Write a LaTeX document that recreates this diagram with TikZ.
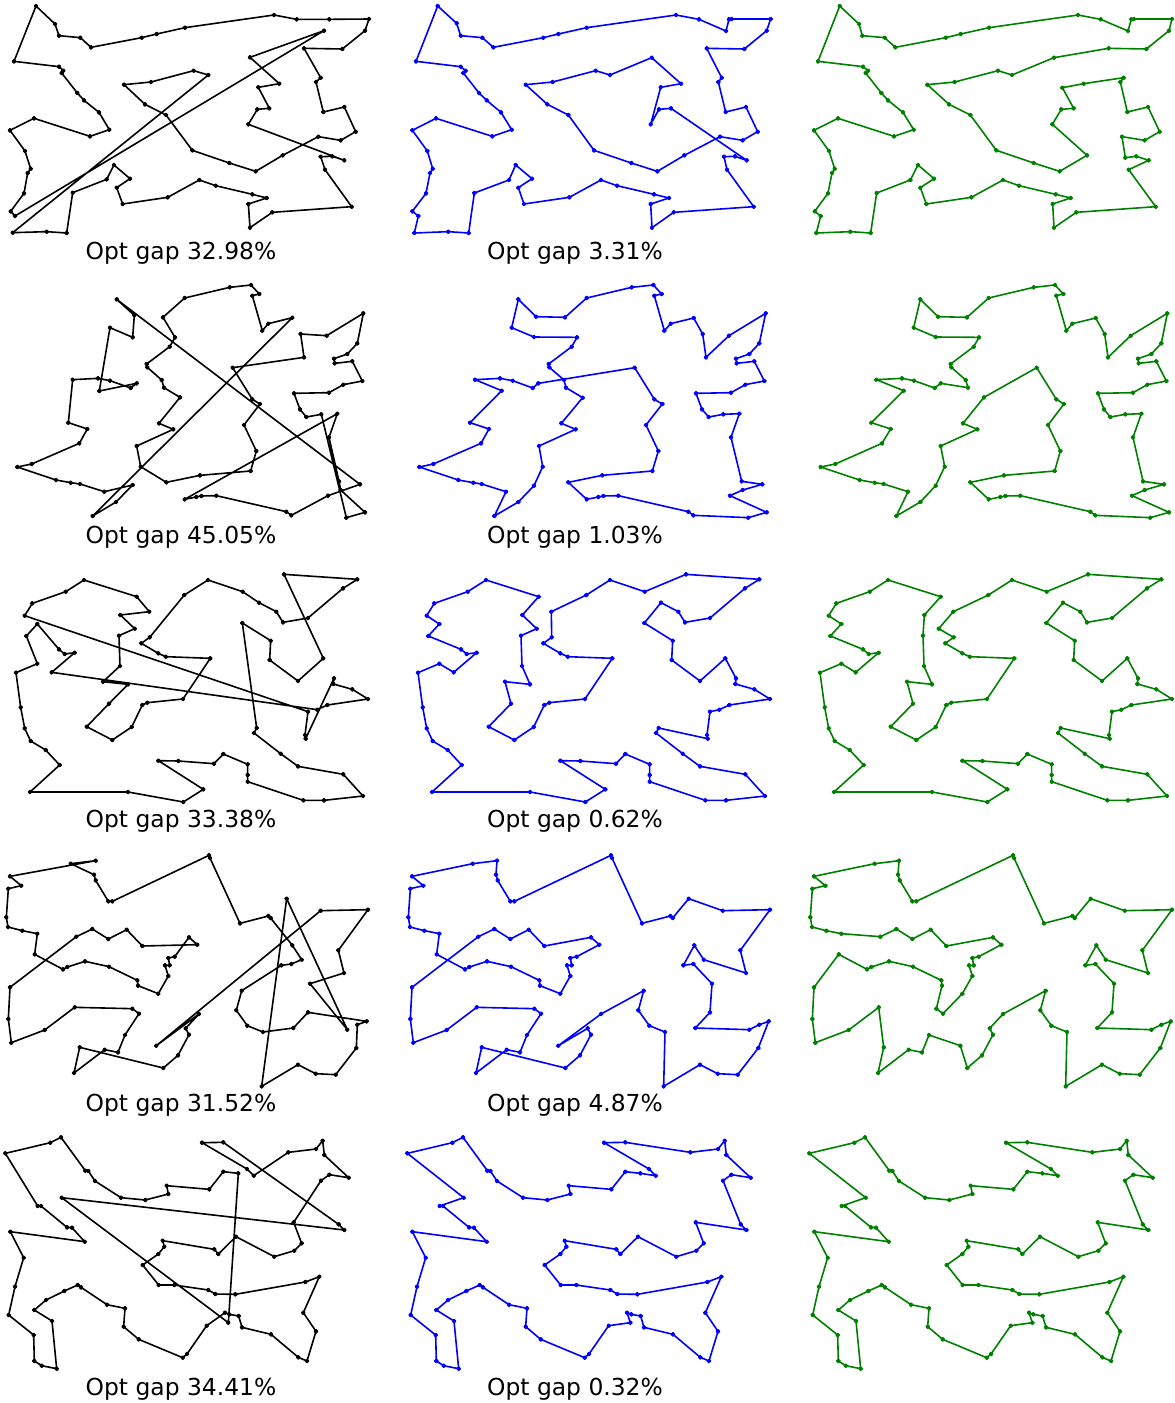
\documentclass[tikz,border=0pt]{standalone}
\usepackage{fontspec}
\setmainfont{DejaVu Sans}
\definecolor{mplgreen}{rgb}{0,0.5,0}
\definecolor{mplblue}{rgb}{0,0,1}
\tikzset{
  tourline/.style={line width=1.6pt,line join=round},
  gaplabel/.style={anchor=base,inner sep=0pt,font=\fontsize{23.4}{28}\selectfont}
}
\newcommand{\tourplot}[4]{%
  \begin{scope}[shift={(#2pt,-#3pt)},x=0.3333333pt,y=-0.3333333pt]
    \draw[tourline,color=#1] plot[mark=*,mark size=1.6pt] coordinates {#4} -- cycle;
  \end{scope}}
\begin{document}
\begin{tikzpicture}
\useasboundingbox (0pt,0pt) rectangle (1175pt,-1403pt);
% ---------------- Row 1
\tourplot{black}{0}{0}{(108,18)(165,72)(177,107)(241,113)(273,142)(425,113)(470,102)(555,83)(822,45)(890,58)(988,58)(1107,57)(1095,92)(1027,147)(912,145)(962,233)(948,246)(970,336)(1033,321)(1067,395)(1022,421)(955,410)(848,466)(767,514)(688,489)(577,451)(498,345)(435,313)(372,254)(453,246)(581,212)(625,225)(38,698)(140,695)(200,699)(218,578)(320,538)(342,495)(390,536)(350,563)(368,612)(503,592)(598,540)(647,557)(757,583)(800,594)(745,612)(750,683)(817,637)(1055,620)(975,509)(962,470)(997,469)(1033,481)(745,373)(772,328)(808,325)(775,262)(838,251)(750,172)(972,92)(45,648)(32,634)(72,580)(83,519)(92,506)(75,453)(30,391)(102,355)(270,409)(328,389)(297,337)(252,301)(232,279)(185,219)(190,212)(177,200)(42,184)}
\tourplot{mplblue}{405}{0}{(98,18)(155,70)(167,107)(232,113)(265,142)(415,113)(460,102)(545,83)(813,45)(882,58)(963,93)(972,58)(980,57)(1097,57)(1085,92)(1018,147)(905,145)(950,233)(940,246)(962,336)(1023,321)(1058,395)(1013,421)(945,410)(838,466)(757,514)(679,489)(567,451)(490,345)(427,313)(362,254)(443,246)(572,212)(615,225)(740,173)(828,251)(767,262)(737,373)(762,328)(798,325)(1025,481)(990,469)(957,470)(966,509)(1046,620)(806,637)(741,683)(737,612)(792,594)(747,583)(636,557)(588,540)(493,592)(357,612)(340,563)(381,536)(332,495)(312,540)(208,579)(191,699)(130,695)(28,699)(40,648)(22,634)(63,580)(75,519)(83,506)(67,453)(22,391)(93,355)(262,409)(320,389)(288,337)(245,301)(222,279)(175,219)(182,212)(167,200)(33,184)}
\tourplot{mplgreen}{808}{0}{(95,18)(153,72)(163,107)(230,113)(262,142)(413,113)(458,102)(543,83)(810,45)(878,58)(960,93)(970,58)(978,57)(1092,57)(1083,92)(1015,147)(902,145)(738,173)(612,225)(570,212)(440,246)(358,254)(423,313)(487,345)(565,451)(677,489)(755,514)(837,466)(733,373)(760,328)(797,325)(763,263)(827,251)(947,233)(937,246)(958,336)(1020,321)(1055,395)(1010,421)(942,410)(952,473)(985,469)(1022,481)(962,509)(1043,620)(805,637)(738,683)(734,612)(788,594)(743,583)(633,557)(585,540)(490,592)(355,612)(337,563)(378,536)(330,495)(307,540)(206,579)(188,699)(127,695)(25,699)(38,648)(20,634)(60,580)(72,519)(80,506)(63,453)(18,391)(90,355)(258,409)(317,389)(285,337)(240,301)(220,279)(173,219)(180,212)(165,200)(30,184)}
\node[gaplabel] (g1a) at (181pt,-259pt) {Opt gap 32.98\%};
\node[gaplabel] (g1b) at (575pt,-259pt) {Opt gap 3.31\%};
% ---------------- Row 2
\tourplot{black}{0}{280}{(350,58)(403,106)(398,172)(330,143)(298,333)(410,310)(392,324)(330,302)(294,295)(218,299)(205,428)(262,447)(238,490)(95,552)(52,561)(168,600)(212,608)(240,612)(313,635)(398,615)(348,666)(278,708)(877,113)(805,131)(787,152)(757,47)(778,42)(753,15)(689,22)(554,54)(489,112)(525,172)(509,200)(440,252)(442,262)(485,300)(492,323)(540,352)(477,430)(520,448)(410,498)(422,560)(499,607)(600,586)(752,573)(769,513)(732,435)(780,372)(757,358)(698,263)(912,232)(902,162)(980,167)(1090,100)(1072,190)(1042,222)(1002,236)(1004,250)(1057,244)(1087,303)(1030,314)(987,338)(882,340)(900,388)(919,411)(964,403)(1039,713)(1095,697)(1022,630)(1017,604)(987,472)(1012,401)(554,658)(589,651)(604,648)(649,647)(859,695)(874,706)(984,647)(1080,613)}
\tourplot{mplblue}{405}{280}{(340,58)(393,110)(480,112)(545,54)(680,22)(745,15)(770,42)(748,47)(778,152)(797,131)(866,114)(893,162)(903,232)(972,167)(1082,100)(1063,190)(1033,222)(993,236)(995,250)(1048,244)(1078,303)(1021,314)(978,338)(873,340)(891,388)(911,411)(955,403)(1003,401)(978,472)(1010,604)(1072,613)(1013,630)(975,647)(1085,697)(1030,713)(865,706)(850,695)(640,647)(595,648)(580,651)(545,658)(490,607)(592,586)(742,573)(760,513)(723,435)(772,372)(748,358)(689,263)(400,310)(383,324)(323,302)(285,295)(210,299)(290,332)(195,428)(252,447)(228,490)(85,552)(43,561)(160,600)(205,608)(230,612)(303,635)(268,708)(340,666)(387,617)(413,560)(402,498)(512,448)(469,430)(533,353)(483,323)(477,300)(433,262)(431,252)(500,200)(516,172)(387,171)(320,143)}
\tourplot{mplgreen}{808}{280}{(337,58)(390,110)(477,112)(542,54)(677,22)(741,15)(766,42)(745,47)(775,152)(793,131)(863,114)(890,162)(900,232)(968,167)(1078,100)(1060,190)(1030,222)(990,236)(992,250)(1045,244)(1075,303)(1018,314)(975,338)(870,340)(888,388)(907,411)(952,403)(1000,401)(975,472)(1005,604)(1068,613)(1010,630)(972,647)(1083,697)(1027,713)(862,706)(847,695)(637,647)(592,648)(577,651)(542,658)(487,607)(588,586)(740,573)(757,513)(720,435)(768,372)(745,358)(686,263)(528,352)(465,430)(508,448)(398,498)(410,560)(383,617)(337,666)(265,708)(300,635)(227,612)(200,608)(155,600)(38,561)(82,552)(222,490)(248,447)(190,428)(287,332)(205,299)(282,295)(318,302)(380,324)(398,310)(480,323)(473,300)(430,262)(428,252)(497,200)(513,172)(383,171)(317,143)}
\node[gaplabel] (g2a) at (181pt,-543pt) {Opt gap 45.05\%};
\node[gaplabel] (g2b) at (575pt,-543pt) {Opt gap 1.03\%};
% ---------------- Row 3
\tourplot{black}{0}{565}{(252,45)(410,95)(448,140)(361,150)(404,191)(357,212)(360,303)(309,350)(384,358)(327,416)(260,485)(337,525)(395,486)(427,420)(442,413)(549,402)(631,280)(497,275)(475,265)(424,235)(449,217)(553,90)(624,45)(728,80)(777,113)(829,140)(849,172)(924,159)(1029,70)(1072,43)(852,28)(970,280)(894,348)(809,285)(812,227)(727,174)(770,489)(762,504)(842,566)(894,604)(1030,628)(1089,693)(972,706)(910,706)(743,650)(743,630)(743,598)(670,567)(642,596)(535,588)(475,587)(610,673)(550,711)(384,681)(90,681)(179,600)(137,555)(92,528)(74,490)(62,427)(48,323)(112,296)(79,213)(112,177)(177,253)(194,267)(224,263)(155,322)(952,434)(982,420)(1104,402)(1057,373)(1000,357)(1002,340)(917,521)(915,510)(924,440)(74,152)(97,115)(197,80)}
\tourplot{mplblue}{406}{565}{(240,45)(185,80)(85,115)(62,152)(100,177)(67,213)(165,253)(182,267)(212,263)(143,322)(100,296)(36,323)(50,427)(62,490)(80,528)(125,555)(167,600)(78,681)(372,681)(538,711)(598,673)(463,587)(523,588)(630,596)(658,567)(731,598)(731,630)(731,650)(898,706)(960,706)(1077,693)(1018,628)(882,604)(830,566)(750,504)(758,489)(905,521)(903,510)(912,440)(940,434)(970,420)(1092,402)(1045,373)(988,357)(990,340)(958,280)(882,348)(797,285)(800,227)(715,174)(765,113)(817,140)(837,172)(912,159)(1017,70)(1060,43)(840,28)(716,80)(612,45)(541,90)(436,140)(437,217)(412,235)(463,265)(485,275)(619,280)(537,402)(430,413)(415,420)(383,486)(325,525)(248,485)(315,416)(297,350)(372,358)(348,303)(345,212)(392,191)(349,150)(398,95)}
\tourplot{mplgreen}{808}{565}{(240,45)(185,80)(85,115)(62,152)(100,177)(67,213)(165,253)(182,267)(212,263)(143,322)(100,296)(36,323)(50,427)(62,490)(80,528)(125,555)(167,600)(78,681)(372,681)(538,711)(598,673)(463,587)(523,588)(630,596)(658,567)(731,598)(731,630)(731,650)(898,706)(960,706)(1077,693)(1018,628)(882,604)(830,566)(750,504)(758,489)(905,521)(903,510)(912,440)(940,434)(970,420)(1092,402)(1045,373)(988,357)(990,340)(958,280)(882,348)(797,285)(800,227)(715,174)(765,113)(817,140)(837,172)(912,159)(1017,70)(1060,43)(840,28)(716,80)(612,45)(541,90)(436,140)(392,191)(437,217)(412,235)(463,265)(485,275)(619,280)(537,402)(430,413)(415,420)(383,486)(325,525)(248,485)(315,416)(297,350)(372,358)(348,303)(345,212)(349,150)(398,95)}
\node[gaplabel] (g3a) at (181pt,-827pt) {Opt gap 33.38\%};
\node[gaplabel] (g3b) at (575pt,-827pt) {Opt gap 0.62\%};
% ---------------- Row 4
\tourplot{black}{0}{848}{(30,85)(64,113)(25,122)(19,208)(24,237)(67,248)(112,257)(104,319)(189,364)(202,357)(255,340)(327,356)(412,397)(414,413)(475,437)(505,384)(495,352)(509,352)(505,330)(524,326)(567,268)(592,290)(427,294)(380,245)(325,273)(277,243)(229,266)(30,418)(25,513)(34,584)(134,546)(224,478)(397,482)(417,497)(375,561)(354,613)(314,605)(222,675)(239,598)(490,660)(534,622)(567,560)(557,541)(597,498)(469,593)(962,188)(1104,185)(1015,307)(1032,375)(930,407)(1042,545)(860,152)(785,715)(894,650)(947,677)(1007,680)(1069,600)(1072,530)(1100,520)(924,493)(880,540)(789,552)(742,533)(709,487)(725,428)(844,352)(874,348)(905,335)(877,292)(812,210)(805,204)(720,226)(630,30)(627,22)(337,160)(325,160)(287,97)(282,80)(212,47)(287,38)}
\tourplot{mplblue}{406}{848}{(18,85)(200,47)(273,38)(270,80)(275,97)(313,160)(325,160)(615,22)(618,30)(708,226)(793,204)(800,210)(848,152)(950,188)(1092,185)(1003,307)(1020,375)(893,335)(865,292)(832,352)(862,348)(918,407)(912,493)(868,540)(1030,545)(1060,530)(1088,520)(1057,600)(995,680)(935,677)(882,650)(773,715)(777,552)(730,533)(697,487)(713,428)(585,498)(457,593)(545,541)(555,560)(522,622)(478,660)(227,598)(210,675)(302,605)(342,613)(363,561)(405,497)(385,482)(212,478)(122,546)(22,584)(13,513)(18,418)(217,266)(265,243)(313,273)(368,245)(415,294)(555,268)(580,290)(512,326)(493,330)(497,352)(483,352)(493,384)(463,437)(402,413)(400,397)(315,356)(243,340)(190,357)(177,364)(92,319)(100,257)(55,248)(12,237)(7,208)(13,122)(52,113)}
\tourplot{mplgreen}{808}{848}{(18,85)(200,47)(273,38)(270,80)(275,97)(313,160)(325,160)(615,22)(618,30)(708,226)(793,204)(800,210)(848,152)(950,188)(1092,185)(1003,307)(1020,375)(893,335)(865,292)(832,352)(862,348)(918,407)(912,493)(868,540)(1030,545)(1060,530)(1088,520)(1057,600)(995,680)(935,677)(882,650)(773,715)(777,552)(730,533)(697,487)(713,428)(585,498)(545,541)(555,560)(522,622)(478,660)(457,593)(363,561)(342,613)(302,605)(210,675)(227,598)(212,478)(122,546)(22,584)(13,513)(18,418)(92,319)(177,364)(190,357)(243,340)(315,356)(400,397)(402,413)(385,482)(405,497)(463,437)(493,384)(483,352)(497,352)(493,330)(512,326)(580,290)(555,268)(415,294)(368,245)(313,273)(265,243)(217,266)(100,257)(55,248)(12,237)(7,208)(13,122)(52,113)}
\node[gaplabel] (g4a) at (181pt,-1111pt) {Opt gap 31.52\%};
\node[gaplabel] (g4b) at (575pt,-1111pt) {Opt gap 4.87\%};
% ---------------- Row 5
\tourplot{black}{0}{1130}{(16,70)(151,38)(183,22)(256,122)(265,123)(285,153)(363,203)(436,210)(505,192)(500,167)(628,178)(670,125)(715,130)(685,578)(185,203)(1033,300)(1016,283)(670,37)(606,38)(741,117)(761,137)(865,67)(948,57)(968,32)(973,75)(1046,143)(988,134)(963,152)(881,277)(905,340)(883,362)(823,380)(708,320)(655,372)(643,358)(488,332)(493,350)(475,372)(428,405)(476,465)(523,465)(625,480)(646,492)(706,493)(916,456)(958,440)(910,548)(948,604)(921,693)(895,682)(813,613)(726,592)(716,558)(688,553)(675,548)(620,587)(561,672)(548,683)(416,628)(371,590)(375,535)(321,524)(243,472)(233,465)(193,483)(138,510)(103,540)(156,573)(170,716)(125,707)(103,693)(101,615)(26,555)(45,470)(71,383)(31,305)(254,335)(216,293)(201,292)(123,228)(113,228)}
\tourplot{mplblue}{398}{1130}{(28,70)(163,38)(195,22)(268,122)(277,123)(297,153)(375,203)(448,210)(517,192)(512,167)(640,178)(682,125)(727,130)(773,137)(753,117)(618,38)(682,37)(877,67)(960,57)(980,32)(985,75)(1058,143)(1000,134)(975,152)(1028,283)(1045,300)(893,277)(917,340)(895,362)(835,380)(720,320)(667,372)(655,358)(500,332)(505,350)(487,372)(440,405)(488,465)(535,465)(637,480)(658,492)(718,493)(928,456)(970,440)(922,548)(960,604)(933,693)(907,682)(825,613)(738,592)(728,558)(700,553)(687,548)(697,578)(632,587)(573,672)(560,683)(428,628)(383,590)(387,535)(333,524)(255,472)(245,465)(205,483)(150,510)(115,540)(168,573)(182,716)(137,707)(115,693)(113,615)(38,555)(57,470)(83,383)(43,305)(266,335)(228,293)(213,292)(135,228)(125,228)(197,203)}
\tourplot{mplgreen}{800}{1130}{(28,70)(163,38)(195,22)(268,122)(277,123)(297,153)(375,203)(448,210)(517,192)(512,167)(640,178)(682,125)(727,130)(773,137)(753,117)(618,38)(682,37)(877,67)(960,57)(980,32)(985,75)(1058,143)(1000,134)(975,152)(1028,283)(1045,300)(893,277)(917,340)(895,362)(835,380)(720,320)(667,372)(655,358)(500,332)(505,350)(487,372)(440,405)(488,465)(535,465)(637,480)(658,492)(718,493)(928,456)(970,440)(922,548)(960,604)(933,693)(907,682)(825,613)(738,592)(728,558)(700,553)(687,548)(697,578)(632,587)(573,672)(560,683)(428,628)(383,590)(387,535)(333,524)(255,472)(245,465)(205,483)(150,510)(115,540)(168,573)(182,716)(137,707)(115,693)(113,615)(38,555)(57,470)(83,383)(43,305)(266,335)(228,293)(213,292)(135,228)(125,228)(197,203)}
\node[gaplabel] (g5a) at (181pt,-1395pt) {Opt gap 34.41\%};
\node[gaplabel] (g5b) at (575pt,-1395pt) {Opt gap 0.32\%};
\end{tikzpicture}
\end{document}
